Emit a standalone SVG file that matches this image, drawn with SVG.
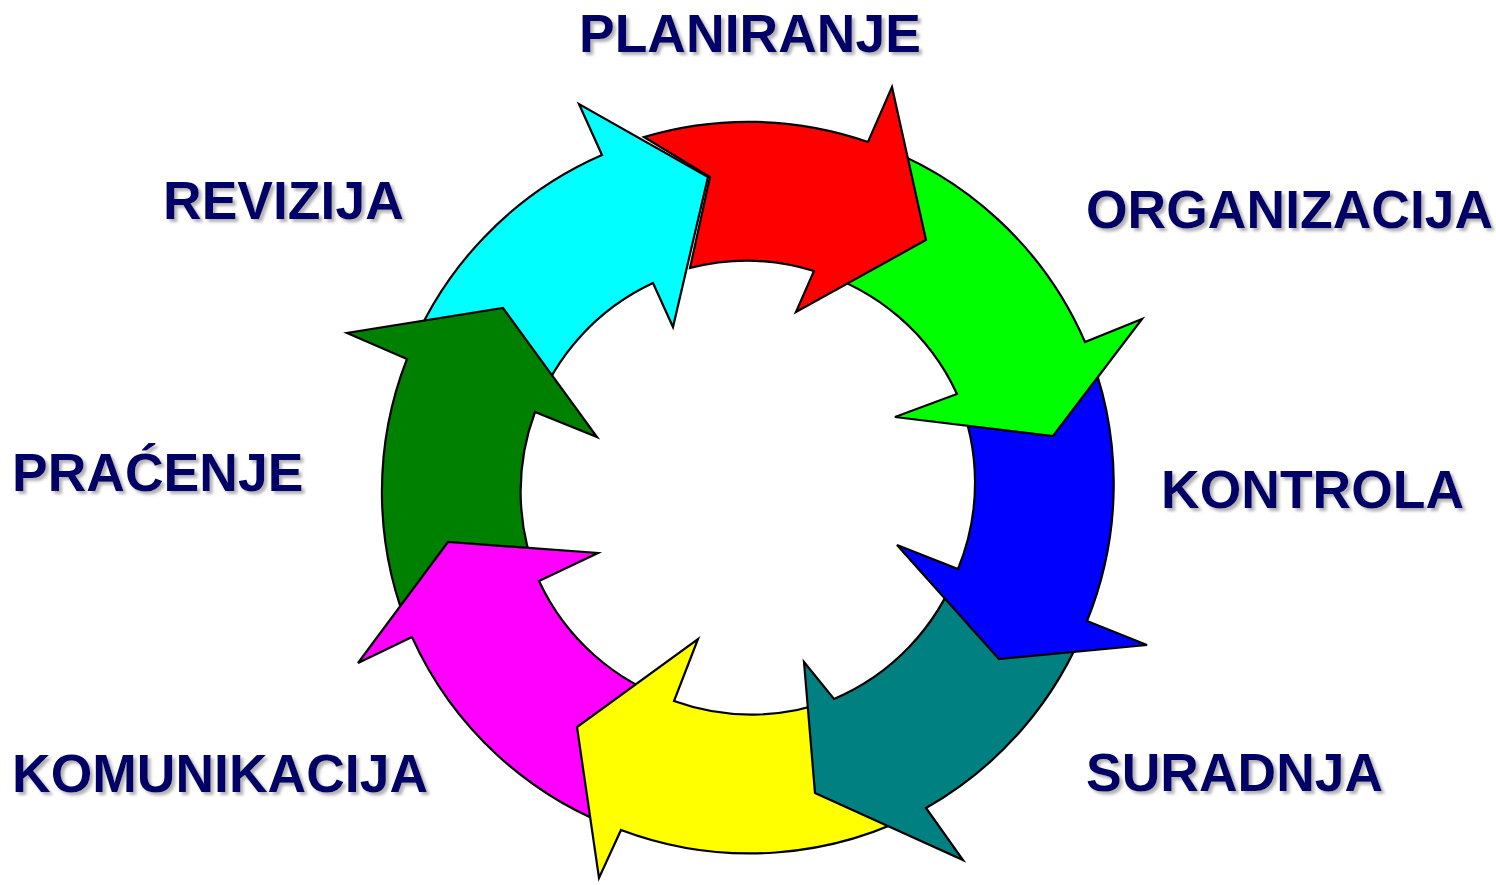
<svg xmlns="http://www.w3.org/2000/svg" width="1496" height="885" viewBox="0 0 1496 885">
<defs>
<filter id="sh" x="-5%" y="-20%" width="115%" height="160%">
<feGaussianBlur in="SourceAlpha" stdDeviation="1.5"/>
<feOffset dx="3" dy="3" result="b"/>
<feFlood flood-color="#808080" flood-opacity="0.6"/>
<feComposite in2="b" operator="in" result="s"/>
<feMerge><feMergeNode in="s"/><feMergeNode in="SourceGraphic"/></feMerge>
</filter>
<style>
.a{stroke:#000;stroke-width:2.2;stroke-linejoin:miter}
.t{font-family:"Liberation Sans",Arial,sans-serif;font-weight:bold;font-size:53.5px;fill:#000066;filter:url(#sh)}
</style>
</defs>
<rect width="1496" height="885" fill="#fff"/>
<g id="connectors"></g>
<g id="arrow-revizija"><path class="a" fill="#00FFFF" d="M407,359 A365,365 0 0 1 602,155 L579,104 L708,177 L673,327 L653,283 A227,227 0 0 0 535,412 Z"/></g>
<g id="arrow-pracenje"><path class="a" fill="#008000" d="M412,637 A365,365 0 0 1 407,359 L347,333 L503,308 L597,437 L535,412 A227,227 0 0 0 539,581 Z"/></g>
<g id="arrow-komunikacija"><path class="a" fill="#FF00FF" d="M621,830 A365,365 0 0 1 412,637 L358,663 L448,542 L598,553 L539,581 A227,227 0 0 0 674,701 Z"/></g>
<g id="arrow-suradnja-yellow"><path class="a" fill="#FFFF00" d="M926,808 A365,365 0 0 1 621,830 L599,878 L577,727 L698,639 L674,701 A227,227 0 0 0 834,699 Z"/></g>
<g id="arrow-teal"><path class="a" fill="#008080" d="M1087,621 A365,365 0 0 1 926,808 L963,860 L815,793 L804,662 L834,699 A227,227 0 0 0 958,569 Z"/></g>
<g id="arrow-blue"><path class="a" fill="#0000FF" d="M1085,342 A365,365 0 0 1 1087,621 L1147,645 L999,659 L897,545 L958,569 A227,227 0 0 0 957,394 Z"/></g>
<g id="arrow-green"><path class="a" fill="#00FF00" d="M868,142 A365,365 0 0 1 1085,342 L1142,319 L1053,436 L895,417 L957,394 A227,227 0 0 0 814,271 Z"/></g>
<g id="arrow-red"><path class="a" fill="#FF0000" d="M644,137 A365,365 0 0 1 868,142 L892,87 L926,240 L796,312 L814,271 A227,227 0 0 0 690,268 L710,177 Z"/></g>
<g id="label-planiranje"><text class="t" x="579" y="52">PLANIRANJE</text></g>
<g id="label-organizacija"><text class="t" x="1086" y="228">ORGANIZACIJA</text></g>
<g id="label-kontrola"><text class="t" x="1161" y="508">KONTROLA</text></g>
<g id="label-suradnja"><text class="t" x="1086" y="791">SURADNJA</text></g>
<g id="label-komunikacija"><text class="t" x="12" y="792">KOMUNIKACIJA</text></g>
<g id="label-pracenje"><text class="t" x="12" y="491">PRAĆENJE</text></g>
<g id="label-revizija"><text class="t" x="163" y="219">REVIZIJA</text></g>
</svg>
